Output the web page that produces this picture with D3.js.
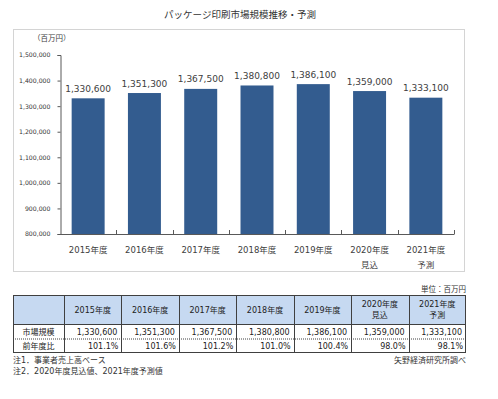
<!DOCTYPE html>
<html>
<head>
<meta charset="utf-8">
<script src="https://cdn.jsdelivr.net/npm/d3@7"></script>
<style>
  body { margin: 0; background: #fff; }
  text { font-family: "DejaVu Sans", "Noto Sans CJK JP", sans-serif; }
</style>
</head>
<body>
<div id="chart"></div>
<script>
// data
let years = ["2015年度", "2016年度", "2017年度", "2018年度", "2019年度", "2020年度", "2021年度"];
let subLabels = ["", "", "", "", "", "見込", "予測"];
let values = [1330600, 1351300, 1367500, 1380800, 1386100, 1359000, 1333100];
let ratios = [101.1, 101.6, 101.2, 101.0, 100.4, 98.0, 98.1];
let yTicks = [800000, 900000, 1000000, 1100000, 1200000, 1300000, 1400000, 1500000];

let W = 498, H = 399;
let fmt = d3.format(",");
let svg = d3.select("#chart").append("svg")
    .attr("width", W)
    .attr("height", H);

svg.append("rect").attr("width", W).attr("height", H).attr("fill", "#fff");

// title
svg.append("text")
    .attr("x", 240).attr("y", 18)
    .attr("text-anchor", "middle")
    .attr("font-size", 9.5)
    .attr("fill", "#333")
    .text("パッケージ印刷市場規模推移・予測");

// chart frame
svg.append("rect")
    .attr("x", 13.5).attr("y", 29.5)
    .attr("width", 451).attr("height", 242)
    .attr("fill", "none")
    .attr("stroke", "#d4d4d4");

svg.append("text")
    .attr("x", 33).attr("y", 41)
    .attr("font-size", 7.5)
    .attr("fill", "#404040")
    .text("（百万円）");

// scales
let x = d3.scaleBand().domain(years).range([60, 454]).paddingInner(0.414).paddingOuter(0.207);
let y = d3.scaleLinear().domain([800000, 1500000]).range([234, 55]);

// y axis
let yAxis = svg.append("g")
    .attr("transform", "translate(60.5,0)")
    .call(d3.axisLeft(y).tickValues(yTicks).tickFormat(fmt).tickSize(3).tickPadding(7));
yAxis.selectAll("text").attr("font-size", 6.2).attr("fill", "#333")
    .style("font-family", "\"DejaVu Sans\", sans-serif");
yAxis.selectAll("line, path").attr("stroke", "#595959");

// bars
svg.selectAll(".bar")
    .data(values)
    .enter()
    .append("rect")
    .attr("class", "bar")
    .attr("x", (d, i) => x(years[i]))
    .attr("width", x.bandwidth())
    .attr("y", d => y(d))
    .attr("height", d => y(800000) - y(d))
    .attr("fill", "#335c8f");

// value labels
svg.selectAll(".val")
    .data(values)
    .enter()
    .append("text")
    .attr("x", (d, i) => x(years[i]) + x.bandwidth() / 2)
    .attr("y", d => y(d) - 6.5)
    .attr("text-anchor", "middle")
    .attr("font-size", 9)
    .attr("fill", "#404040")
    .text(d => fmt(d));

// x axis
let step = x.step();
svg.append("line")
    .attr("x1", 60).attr("x2", 454)
    .attr("y1", 234.5).attr("y2", 234.5)
    .attr("stroke", "#595959");
years.forEach((yr, i) => {
  let bx = x(yr) + x.bandwidth() + (step - x.bandwidth()) / 2;
  svg.append("line")
      .attr("x1", Math.round(bx) + 0.5).attr("x2", Math.round(bx) + 0.5)
      .attr("y1", 230).attr("y2", 234.5)
      .attr("stroke", "#595959");
  let cx = x(yr) + x.bandwidth() / 2;
  svg.append("text")
      .attr("x", cx).attr("y", 252.5)
      .attr("text-anchor", "middle")
      .attr("font-size", 8.5)
      .attr("fill", "#404040")
      .text(yr);
  if (subLabels[i]) {
    svg.append("text")
        .attr("x", cx).attr("y", 267.5)
        .attr("text-anchor", "middle")
        .attr("font-size", 8.5)
        .attr("fill", "#404040")
        .text(subLabels[i]);
  }
});

// table
let tLeft = 13, firstW = 51, tRight = 466;
let colX = d3.scaleBand().domain(years).range([tLeft + firstW, tRight]);
let rowY = [295, 324, 338.5, 353];

svg.append("text")
    .attr("x", tRight).attr("y", 292)
    .attr("text-anchor", "end")
    .attr("font-size", 7.5)
    .attr("fill", "#333")
    .text("単位：百万円");

svg.append("rect")
    .attr("x", tLeft).attr("y", rowY[0])
    .attr("width", tRight - tLeft).attr("height", rowY[1] - rowY[0])
    .attr("fill", "#c6d9f1");

let tbl = svg.append("g").attr("stroke", "#404040").attr("stroke-width", 1);
tbl.append("rect")
    .attr("x", tLeft + 0.5).attr("y", rowY[0] + 0.5)
    .attr("width", tRight - tLeft - 1).attr("height", rowY[3] - rowY[0] - 1)
    .attr("fill", "none");
tbl.append("line")
    .attr("x1", tLeft).attr("x2", tRight)
    .attr("y1", rowY[1] + 0.5).attr("y2", rowY[1] + 0.5);
tbl.append("line")
    .attr("x1", tLeft).attr("x2", tRight)
    .attr("y1", rowY[2] + 0.5).attr("y2", rowY[2] + 0.5)
    .attr("stroke-dasharray", "1,1");
[tLeft + firstW].concat(years.slice(1).map(d => colX(d))).forEach(cx => {
  tbl.append("line")
      .attr("x1", Math.round(cx) + 0.5).attr("x2", Math.round(cx) + 0.5)
      .attr("y1", rowY[0]).attr("y2", rowY[3]);
});

let rowLabels = ["市場規模", "前年度比"];
rowLabels.forEach((lab, r) => {
  svg.append("text")
      .attr("x", tLeft + firstW / 2).attr("y", rowY[r + 1] + 10.5)
      .attr("text-anchor", "middle")
      .attr("font-size", 8)
      .attr("fill", "#222")
      .text(lab);
});

years.forEach((yr, i) => {
  let cx = colX(yr) + colX.bandwidth() / 2;
  if (subLabels[i]) {
    svg.append("text").attr("x", cx).attr("y", 307)
        .attr("text-anchor", "middle").attr("font-size", 8).attr("fill", "#222")
        .text(yr);
    svg.append("text").attr("x", cx).attr("y", 317.5)
        .attr("text-anchor", "middle").attr("font-size", 8).attr("fill", "#222")
        .text(subLabels[i]);
  } else {
    svg.append("text").attr("x", cx).attr("y", 312.5)
        .attr("text-anchor", "middle").attr("font-size", 8).attr("fill", "#222")
        .text(yr);
  }
  let rx = colX(yr) + colX.bandwidth() - 3;
  svg.append("text").attr("x", rx - 1).attr("y", rowY[1] + 10.5)
      .attr("text-anchor", "end").attr("font-size", 8).attr("fill", "#222")
      .text(fmt(values[i]));
  svg.append("text").attr("x", rx).attr("y", rowY[2] + 10.5)
      .attr("text-anchor", "end").attr("font-size", 8).attr("fill", "#222")
      .text(d3.format(".1f")(ratios[i]) + "%");
});

// notes
svg.append("text").attr("x", 13).attr("y", 363)
    .attr("font-size", 8).attr("fill", "#333")
    .text("注1．事業者売上高ベース");
svg.append("text").attr("x", 13).attr("y", 374)
    .attr("font-size", 8).attr("fill", "#333")
    .text("注2．2020年度見込値、2021年度予測値");
svg.append("text").attr("x", tRight).attr("y", 363)
    .attr("text-anchor", "end")
    .attr("font-size", 8).attr("fill", "#333")
    .text("矢野経済研究所調べ");
</script>
</body>
</html>
